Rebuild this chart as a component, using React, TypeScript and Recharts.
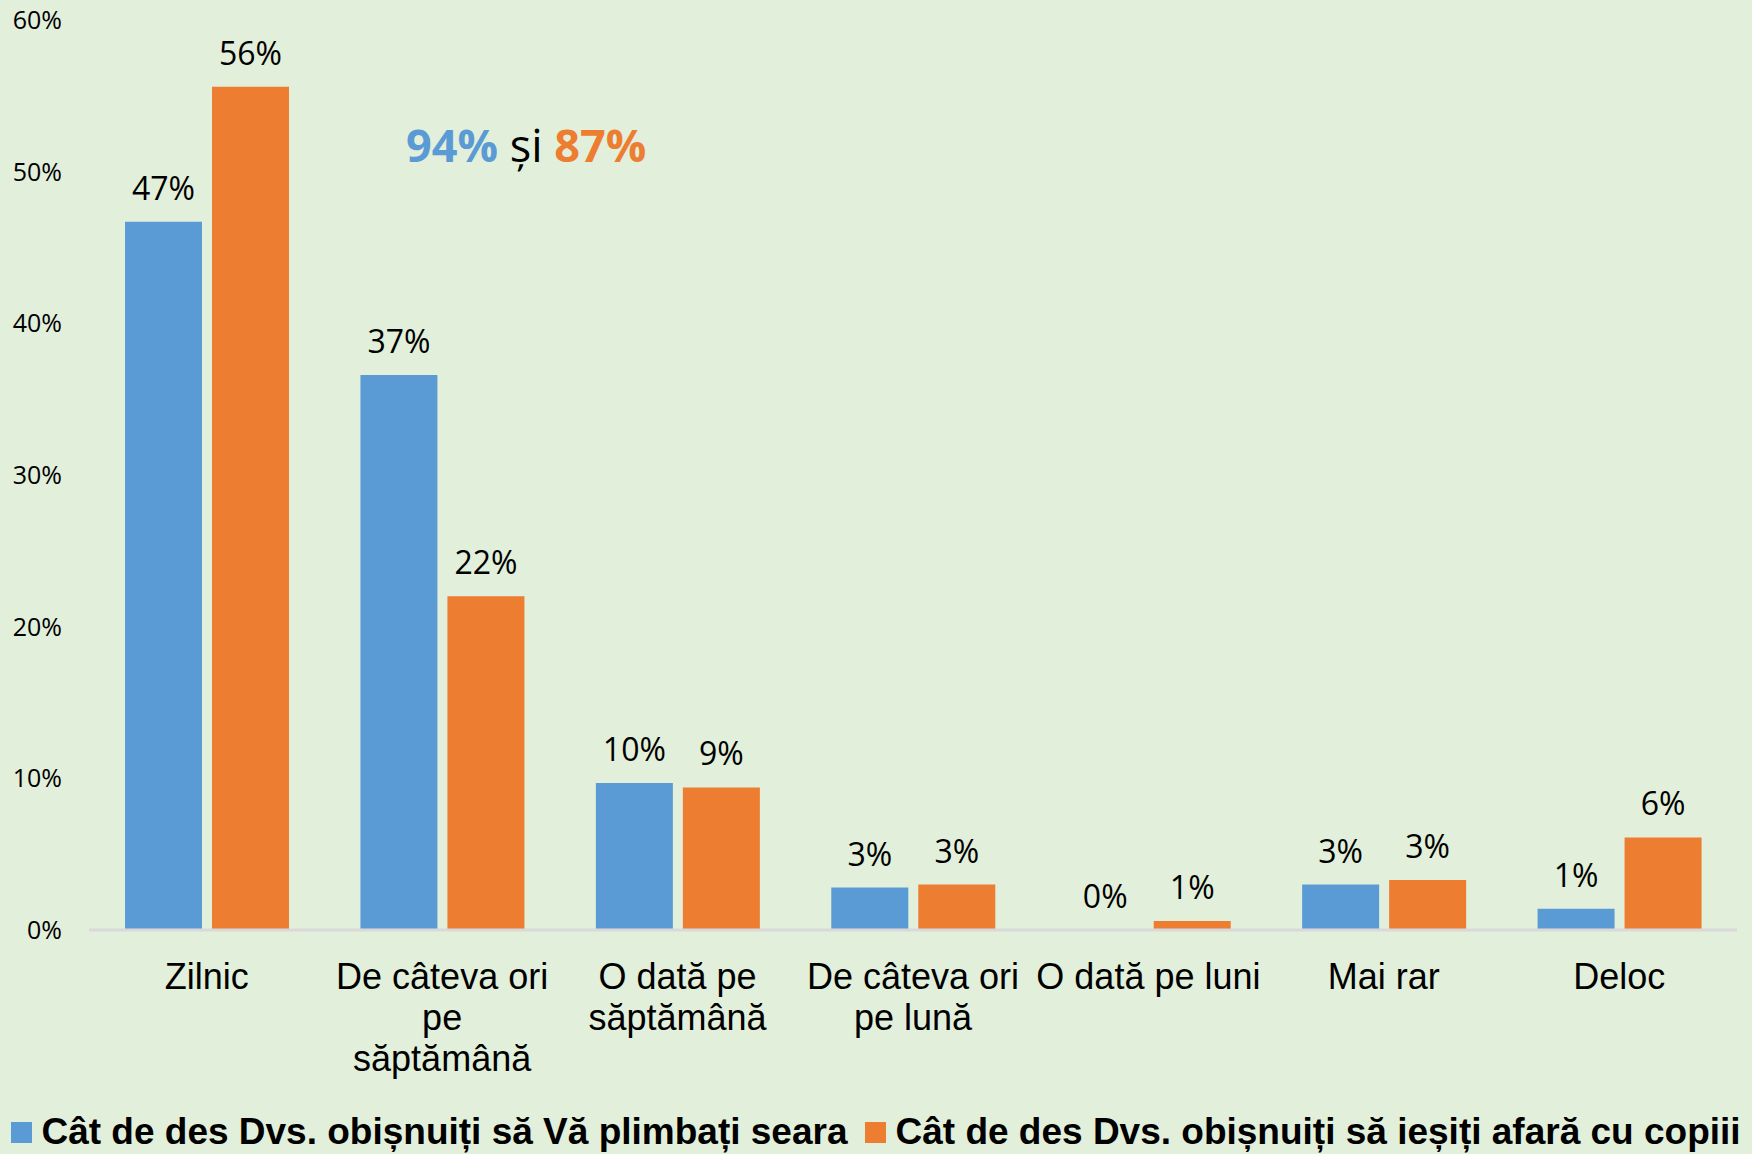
import React from 'react';
import { BarChart, Bar, XAxis, YAxis, LabelList, Legend } from 'recharts';

const categories = [
  'Zilnic',
  'De câteva ori pe săptămână',
  'O dată pe săptămână',
  'De câteva ori pe lună',
  'O dată pe luni',
  'Mai rar',
  'Deloc',
];
const categoryLines: string[][] = [
  ['Zilnic'],
  ['De câteva ori', 'pe', 'săptămână'],
  ['O dată pe', 'săptămână'],
  ['De câteva ori', 'pe lună'],
  ['O dată pe luni'],
  ['Mai rar'],
  ['Deloc'],
];
const seriesNames = [
  'Cât de des Dvs. obișnuiți să Vă plimbați seara',
  'Cât de des Dvs. obișnuiți să ieșiți afară cu copiii',
];
const eveningWalk = [46.7, 36.6, 9.7, 2.8, 0, 3.0, 1.4];
const outWithChildren = [55.6, 22.0, 9.4, 3.0, 0.6, 3.3, 6.1];
const yTicks = [0, 10, 20, 30, 40, 50, 60];
const highlight = ['94%', 'și', '87%'];

const BLUE = '#5B9BD5';
const ORANGE = '#ED7D31';
const BG = '#E2EFDA';

const data = categories.map((name, i) => ({
  name,
  walk: eveningWalk[i],
  kids: outWithChildren[i],
}));

const CategoryTick = (props: any) => {
  const { x, y, payload } = props;
  const idx = categories.indexOf(payload.value);
  const lines = categoryLines[idx] || [payload.value];
  return (
    <text
      x={x}
      y={y}
      textAnchor="middle"
      fill="#000"
      fontFamily="'Liberation Sans', Arial, sans-serif"
      fontSize={36}
    >
      {lines.map((l, i) => (
        <tspan key={i} x={x} dy={i === 0 ? 57 : 41}>
          {l}
        </tspan>
      ))}
    </text>
  );
};

const LegendContent = () => (
  <div
    style={{
      height: 44,
      width: 1752,
      display: 'flex',
      alignItems: 'center',
      justifyContent: 'center',
      fontFamily: "'Liberation Sans', Arial, sans-serif",
      fontWeight: 'bold',
      fontSize: 37,
      color: '#000',
      whiteSpace: 'nowrap',
    }}
  >
    {seriesNames.map((n, i) => (
      <div key={i} style={{ display: 'flex', alignItems: 'center', marginLeft: i === 0 ? 0 : 18 }}>
        <div style={{ width: 21, height: 21, background: i === 0 ? BLUE : ORANGE, marginRight: 9 }} />
        <span>{n}</span>
      </div>
    ))}
  </div>
);

const fmt = (v: any) => `${Math.round(Number(v))}%`;

export default function App() {
  return (
    <div style={{ position: 'absolute', left: 0, top: 0, width: 1752, height: 1154, background: BG, overflow: 'hidden' }}>
      <BarChart
        width={1752}
        height={1154}
        data={data}
        margin={{ top: 20, right: 15, left: 0, bottom: 0 }}
        barGap={10}
        barSize={77}
      >
        <XAxis
          dataKey="name"
          interval={0}
          height={180}
          tickLine={false}
          tickSize={0}
          axisLine={{ stroke: '#D9D9D9', strokeWidth: 3 }}
          tick={<CategoryTick />}
        />
        <YAxis
          domain={[0, 60]}
          ticks={yTicks}
          width={89}
          axisLine={false}
          tickLine={false}
          tickSize={0}
          tickMargin={27}
          tickFormatter={(v: number) => `${v}%`}
          tick={{ fill: '#000', fontSize: 25, fontFamily: "'Open Sans', sans-serif" }}
        />
        <Legend
          verticalAlign="bottom"
          height={44}
          wrapperStyle={{ left: 0, width: 1752, bottom: 0 }}
          content={<LegendContent />}
        />
        <Bar dataKey="walk" name={seriesNames[0]} fill={BLUE} minPointSize={0.001} isAnimationActive={false}>
          <LabelList
            dataKey="walk"
            position="top"
            offset={22}
            formatter={fmt}
            fill="#000"
            fontSize={32}
            fontFamily="'Open Sans', sans-serif"
          />
        </Bar>
        <Bar dataKey="kids" name={seriesNames[1]} fill={ORANGE} minPointSize={0.001} isAnimationActive={false}>
          <LabelList
            dataKey="kids"
            position="top"
            offset={22}
            formatter={fmt}
            fill="#000"
            fontSize={32}
            fontFamily="'Open Sans', sans-serif"
          />
        </Bar>
      </BarChart>
      <svg style={{ position: 'absolute', left: 0, top: 0 }} width={1752} height={200}>
        <text x={406} y={162} fontFamily="'Open Sans', sans-serif" fontSize={45}>
          <tspan fill={BLUE} fontWeight="bold">{highlight[0]}</tspan>
          <tspan fill="#000" fontWeight="normal">{' ' + highlight[1] + ' '}</tspan>
          <tspan fill={ORANGE} fontWeight="bold">{highlight[2]}</tspan>
        </text>
      </svg>
    </div>
  );
}
